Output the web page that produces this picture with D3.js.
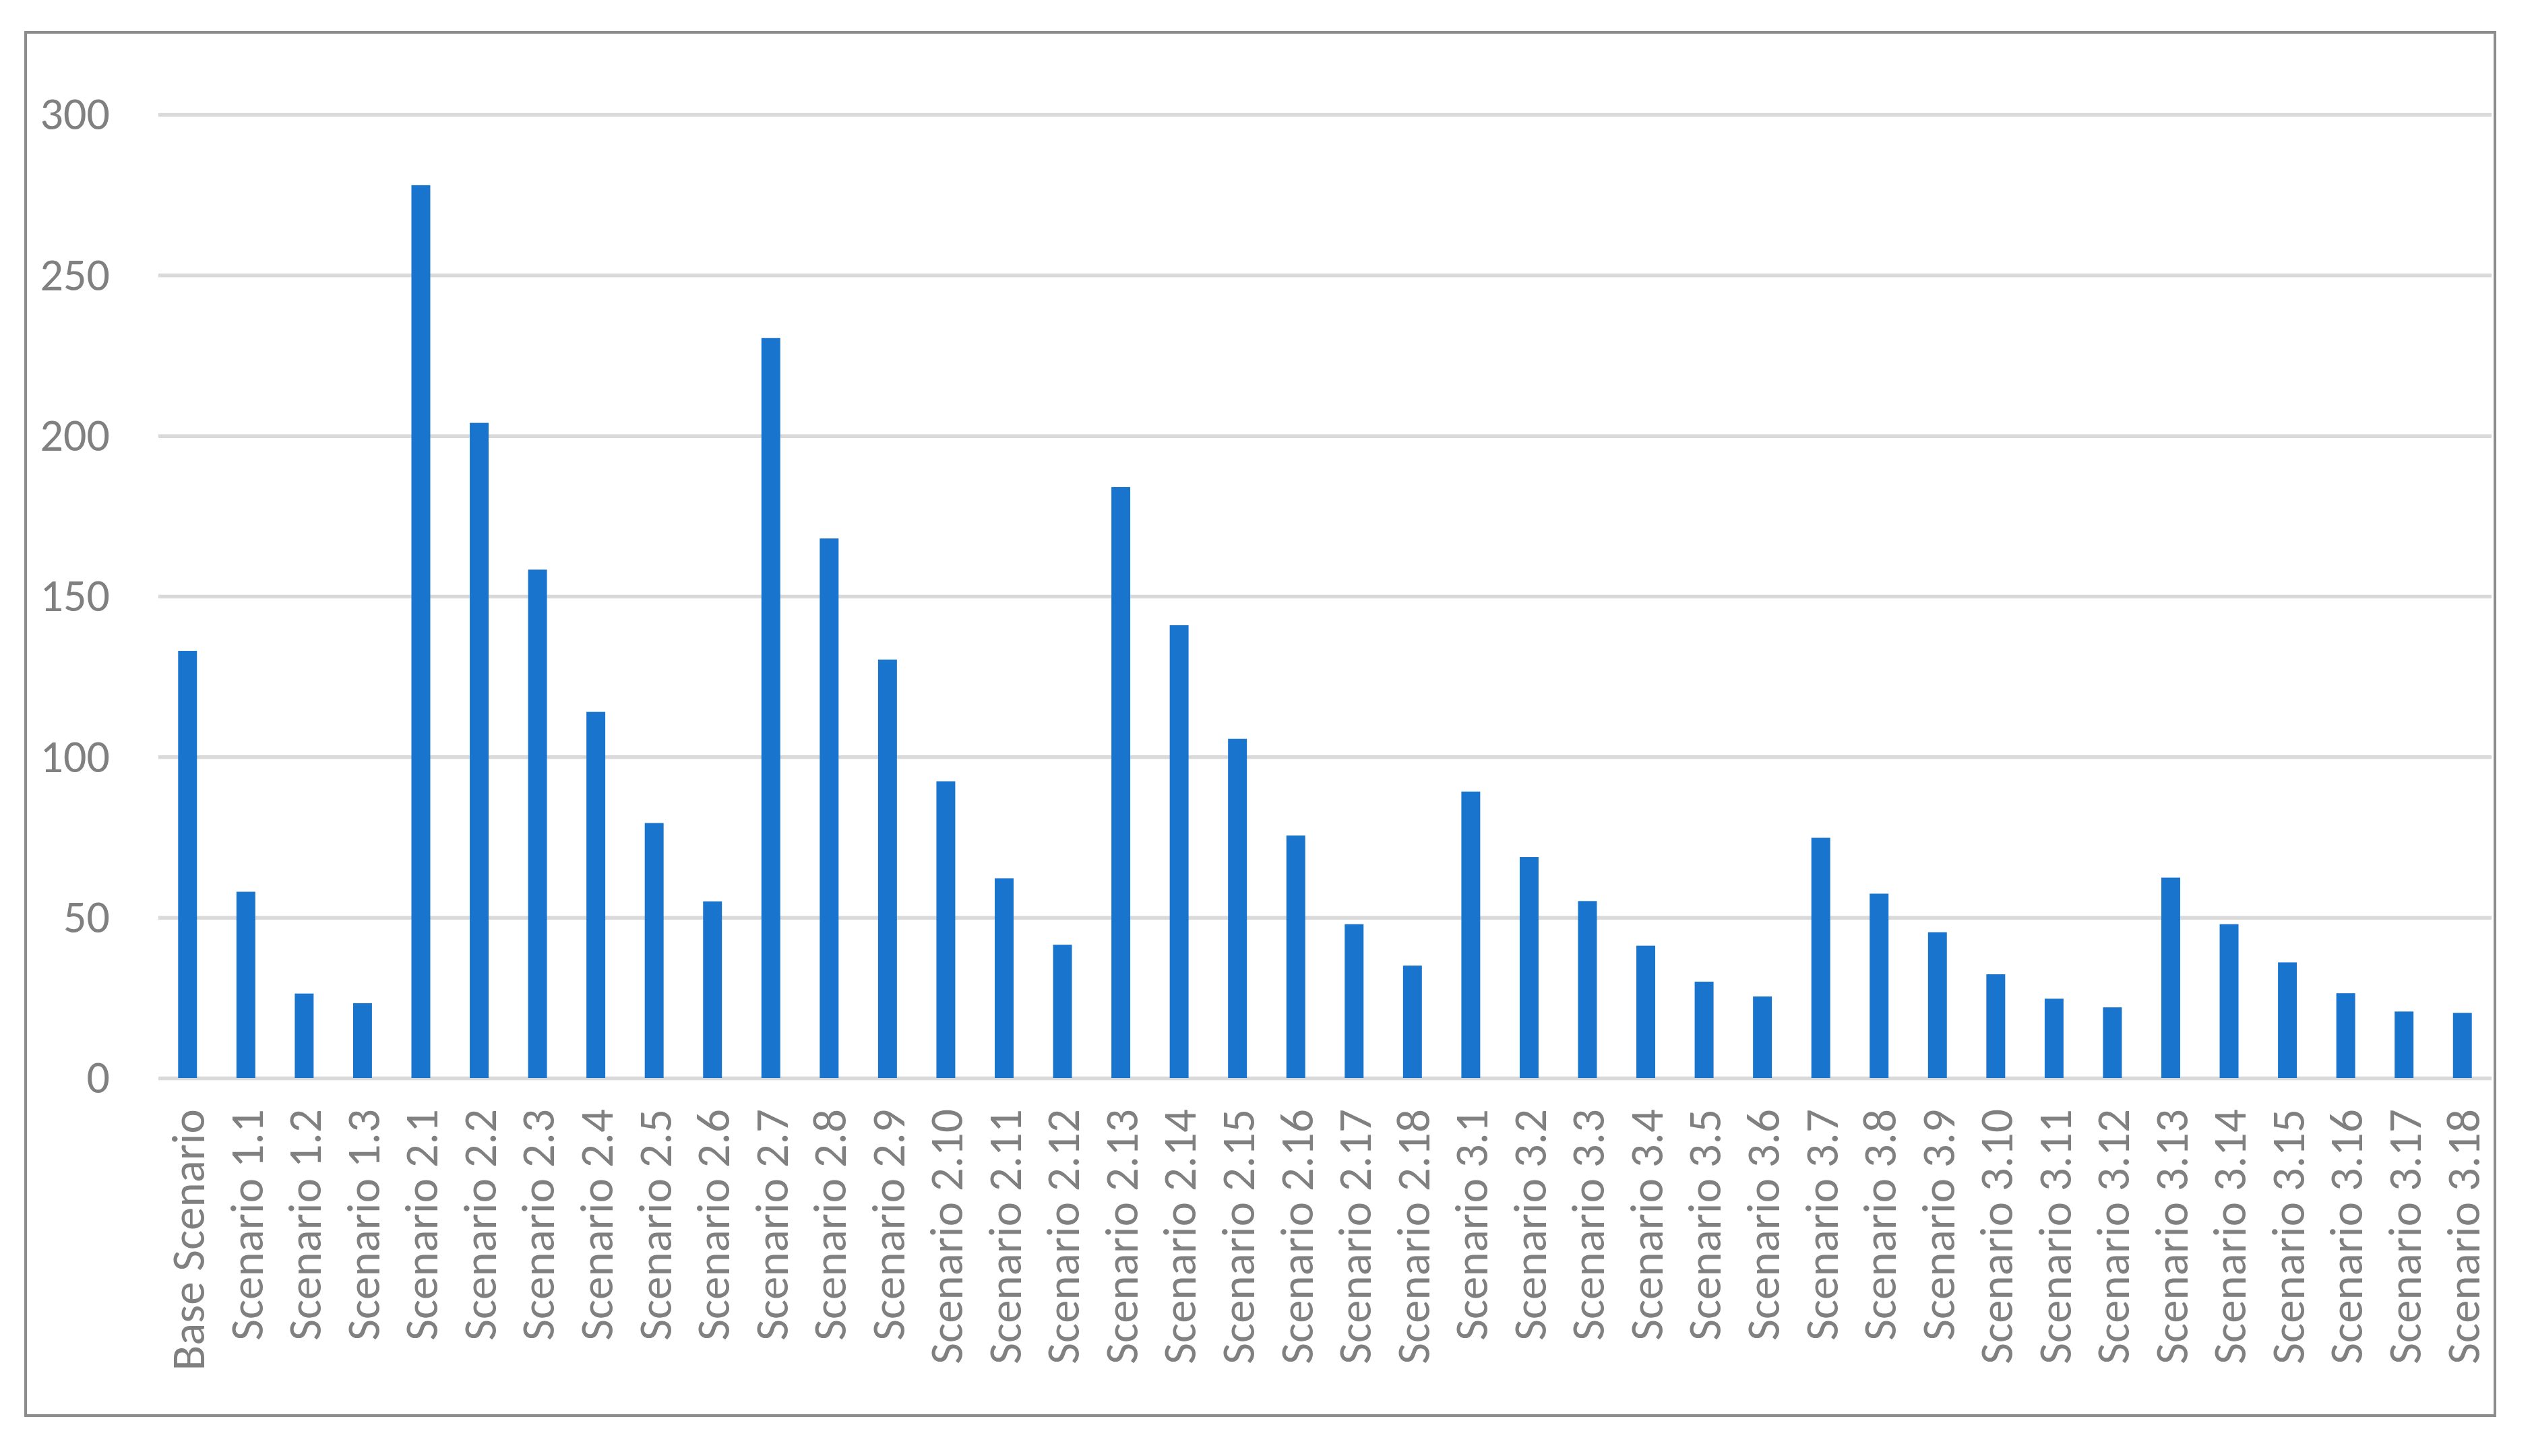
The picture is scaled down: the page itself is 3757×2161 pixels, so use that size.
<!DOCTYPE html>
<html>
<head>
<meta charset="utf-8">
<script src="https://cdn.jsdelivr.net/npm/d3@7"></script>
<style>
  body { margin: 0; background: #fff; }
  text { font-family: Carlito, Lato, "Open Sans", sans-serif; fill: #808080; }
</style>
</head>
<body>
<script>
const scenarios = [
    'Base Scenario', 'Scenario 1.1', 'Scenario 1.2', 'Scenario 1.3',
    'Scenario 2.1', 'Scenario 2.2', 'Scenario 2.3', 'Scenario 2.4', 'Scenario 2.5', 'Scenario 2.6',
    'Scenario 2.7', 'Scenario 2.8', 'Scenario 2.9', 'Scenario 2.10', 'Scenario 2.11', 'Scenario 2.12',
    'Scenario 2.13', 'Scenario 2.14', 'Scenario 2.15', 'Scenario 2.16', 'Scenario 2.17', 'Scenario 2.18',
    'Scenario 3.1', 'Scenario 3.2', 'Scenario 3.3', 'Scenario 3.4', 'Scenario 3.5', 'Scenario 3.6',
    'Scenario 3.7', 'Scenario 3.8', 'Scenario 3.9', 'Scenario 3.10', 'Scenario 3.11', 'Scenario 3.12',
    'Scenario 3.13', 'Scenario 3.14', 'Scenario 3.15', 'Scenario 3.16', 'Scenario 3.17', 'Scenario 3.18'
];

const values = [
    133, 58, 26.3, 23.3,
    278, 204, 158.3, 114, 79.4, 55,
    230.4, 168, 130.3, 92.4, 62.2, 41.5,
    184, 141, 105.6, 75.5, 47.9, 35,
    89.2, 68.8, 55.1, 41.2, 30, 25.4,
    74.8, 57.4, 45.4, 32.3, 24.7, 22,
    62.4, 47.9, 36, 26.4, 20.7, 20.3
];

const yTicks = [0, 50, 100, 150, 200, 250, 300];

const W = 3757, H = 2161;
const plot = { left: 235, right: 3697, top: 170, bottom: 1600 };

const svg = d3.select("body").append("svg")
    .attr("width", W)
    .attr("height", H);

svg.append("rect")
    .attr("x", 0).attr("y", 0)
    .attr("width", W).attr("height", H)
    .attr("fill", "#fff");

// chart frame
svg.append("rect")
    .attr("x", 38).attr("y", 48)
    .attr("width", 3702 - 38).attr("height", 2101 - 48)
    .attr("fill", "none")
    .attr("stroke", "#8c8c8c")
    .attr("stroke-width", 4);

const x = d3.scaleBand()
    .domain(scenarios)
    .range([plot.left, plot.right])
    .paddingInner(0.677)
    .paddingOuter(0.3385);

const y = d3.scaleLinear()
    .domain([0, 300])
    .range([plot.bottom, plot.top]);

// gridlines + y labels
const yAxis = svg.append("g")
    .attr("transform", "translate(" + plot.left + ",0)")
    .call(d3.axisLeft(y).tickValues(yTicks).tickSize(-(plot.right - plot.left)).tickPadding(72));

yAxis.select(".domain").remove();
yAxis.selectAll(".tick line")
    .attr("stroke", "#d9d9d9")
    .attr("stroke-width", 5.5);
yAxis.selectAll(".tick text")
    .attr("font-size", 68)
    .attr("fill", "#808080")
    .attr("font-family", null);

// bars
svg.append("g").selectAll("rect")
    .data(values)
    .enter().append("rect")
    .attr("x", (d, i) => x(scenarios[i]))
    .attr("y", d => y(d))
    .attr("width", x.bandwidth())
    .attr("height", d => y(0) - y(d))
    .attr("fill", "#1874cd");

// x labels, rotated
svg.append("g").selectAll("text")
    .data(scenarios)
    .enter().append("text")
    .attr("transform", d => "translate(" + (x(d) + x.bandwidth() / 2) + "," + (plot.bottom + 46) + ") rotate(-90)")
    .attr("text-anchor", "end")
    .attr("dy", "0.36em")
    .attr("font-size", 69)
    .text(d => d);
</script>
</body>
</html>
